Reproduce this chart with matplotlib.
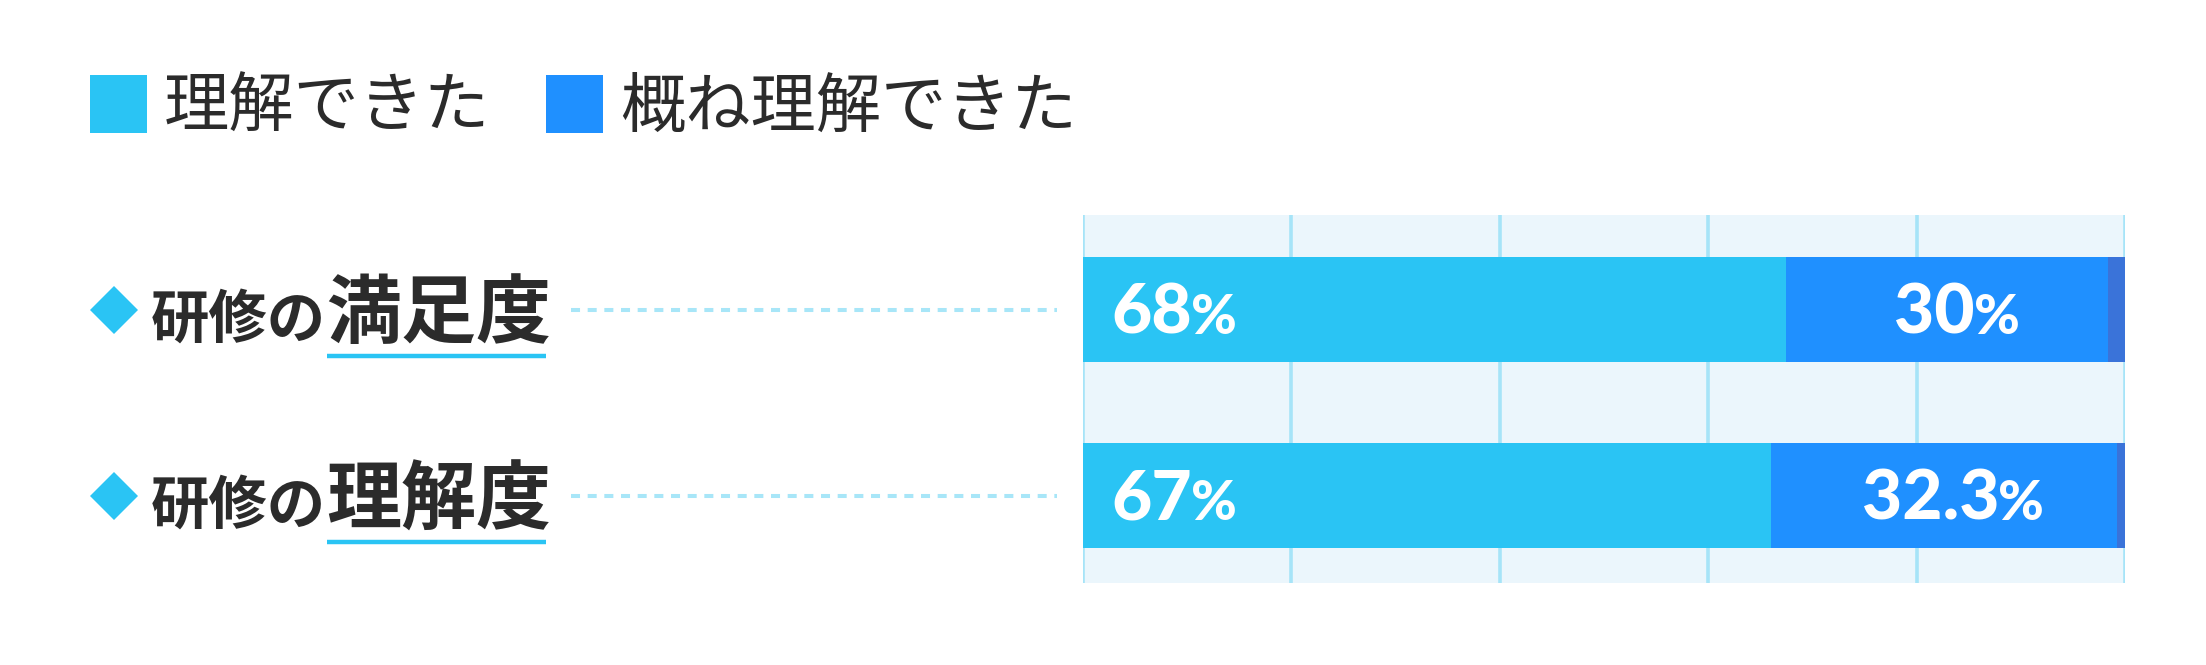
import matplotlib
matplotlib.use("Agg")
import matplotlib.pyplot as plt
from matplotlib.patches import Patch
from matplotlib.transforms import blended_transform_factory, offset_copy

plt.rcParams['font.family'] = ['Noto Sans CJK JP', 'DejaVu Sans']
plt.rcParams['lines.scale_dashes'] = False

# ---- data ----
cat_prefix = ['研修の', '研修の']
cat_main = ['満足度', '理解度']
understood = [67.5, 66.0]      # 理解できた (bar lengths as drawn)
mostly = [30.9, 33.2]          # 概ね理解できた (bar lengths as drawn)
other = [1.6, 0.8]             # remainder
understood_labels = ['68', '67']
mostly_labels = ['30', '32.3']
series_names = ['理解できた', '概ね理解できた']
xticks = [0, 20, 40, 60, 80, 100]

# ---- styles ----
C_LIGHT = '#2AC4F4'
C_DARK = '#1F90FF'
C_OTHER = '#3A73D9'
C_BG = '#EBF6FC'
C_GRID = '#A6E4F8'
C_TEXT = '#2B2B2B'
C_DOT = '#A8E6F8'

W, H = 2206, 665
fig = plt.figure(figsize=(W / 100, H / 100), dpi=100)
fig.patch.set_facecolor('white')

AX_W = 1042
ax = fig.add_axes([1083 / W, 1 - 583 / H, AX_W / W, 368 / H])
ax.set_facecolor(C_BG)
rows = list(range(len(cat_main)))
bar_h = 105 / 186
ax.barh(rows, understood, height=bar_h, color=C_LIGHT, linewidth=0, zorder=2)
ax.barh(rows, mostly, left=understood, height=bar_h, color=C_DARK, linewidth=0, zorder=2)
left3 = [a + b for a, b in zip(understood, mostly)]
ax.barh(rows, other, left=left3, height=bar_h, color=C_OTHER, linewidth=0, zorder=2)

ax.set_xlim(0, 100)
ax.set_ylim(1 + 87.5 / 186, -94.5 / 186)
ax.set_xticks(xticks)
ax.set_yticks([])
ax.tick_params(axis='x', length=0, labelbottom=False)
ax.grid(axis='x', color=C_GRID, linewidth=2.6, zorder=1)
ax.set_axisbelow(True)
for s in ax.spines.values():
    s.set_visible(False)

# ---- value labels ----
fig.canvas.draw()
renderer = fig.canvas.get_renderer()
px = AX_W / 100.0  # pixels per data unit in x

def value_label(row, x_data, text, mode):
    base = offset_copy(ax.transData, fig=fig, x=0, y=-24, units='dots')
    num = ax.text(0, row, text, transform=base, fontsize=50,
                  family=['Lato', 'DejaVu Sans'], weight='black', color='white',
                  ha='left', va='baseline', zorder=5)
    pct = ax.text(0, row, '%', transform=base, fontsize=40,
                  family=['Lato', 'DejaVu Sans'], weight='black', color='white',
                  ha='left', va='baseline', zorder=5)
    wn = num.get_window_extent(renderer).width
    wp = pct.get_window_extent(renderer).width
    gap = -1
    if mode == 'left':
        x0 = x_data
    else:
        x0 = x_data - (wn + gap + wp) / 2 / px
    num.set_x(x0)
    pct.set_x(x0 + (wn + gap) / px)

for i in rows:
    value_label(i, 2.7, understood_labels[i], 'left')
    value_label(i, understood[i] + mostly[i] / 2 + 0.9, mostly_labels[i], 'center')

# ---- category labels (left side) ----
fx = blended_transform_factory(fig.transFigure, ax.transData)
for i in rows:
    ax.text(151 / W, i + 28 / 186, cat_prefix[i], transform=fx, fontsize=42,
            weight='bold', color=C_TEXT, ha='left', va='baseline', clip_on=False)
    ax.text(326 / W, i + 28 / 186, cat_main[i], transform=fx, fontsize=54,
            weight='bold', color=C_TEXT, ha='left', va='baseline', clip_on=False)
    ax.plot([327 / W, 546 / W], [i + 46 / 186] * 2, transform=fx, color=C_LIGHT,
            linewidth=3.2, solid_capstyle='butt', clip_on=False)
    ax.plot([114 / W], [i], transform=fx, marker='D', markersize=24.4,
            color=C_LIGHT, markeredgewidth=0, clip_on=False)
    ax.plot([571 / W, 1057 / W], [i, i], transform=fx, color=C_DOT,
            linewidth=2.9, dashes=(6.5, 5.5), dash_capstyle='butt', clip_on=False)

# ---- legend ----
handles = [Patch(facecolor=C_LIGHT, linewidth=0), Patch(facecolor=C_DARK, linewidth=0)]
fs = 47
fspx = fs * 100 / 72
fig.legend(handles, series_names, loc='upper left', bbox_to_anchor=(90 / W, 1 - 75 / H),
           ncol=2, frameon=False, fontsize=fs, handlelength=57 / fspx,
           handleheight=0.99, handletextpad=17 / fspx, columnspacing=56 / fspx,
           borderpad=0, borderaxespad=0, labelcolor=C_TEXT)

fig.savefig('out.png', dpi=100, facecolor='white')
